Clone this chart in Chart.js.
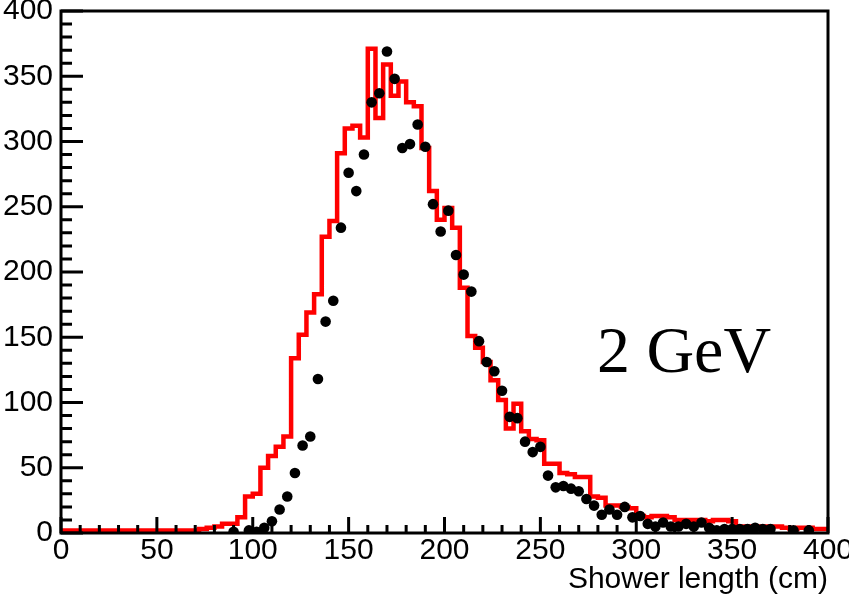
<!DOCTYPE html>
<html><head><meta charset="utf-8">
<script src="https://cdn.jsdelivr.net/npm/chart.js@4.4.1/dist/chart.umd.min.js"></script>
<style>html,body{margin:0;padding:0;background:#fff;overflow:hidden}#wrap{width:849px;height:595px;position:relative}</style>
</head><body><div id="wrap"><canvas id="c" width="849" height="595"></canvas></div>
<script>
// ---- data ----
const binWidth = 4;
const xMin = 0, xMax = 400;
const yMin = 0, yMax = 400;
const xTickValues = [0, 50, 100, 150, 200, 250, 300, 350, 400];
const xTickLabels = ['0', '50', '100', '150', '200', '250', '300', '350', '400'];
const yTickValues = [0, 50, 100, 150, 200, 250, 300, 350, 400];
const yTickLabels = ['0', '50', '100', '150', '200', '250', '300', '350', '400'];
const xTitle = 'Shower length (cm)';
const annotationText = '2 GeV';
const annotationX = 279.5;
const annotationY = 123;

// red histogram (simulation), one value per 4 cm bin from 0 to 400
const simValues = [
  2, 2, 2, 2, 2, 2, 2, 2, 2, 2, 2, 2, 2, 2, 2, 2, 2, 2,
  3, 4, 5, 7, 7, 12, 28, 30, 50, 59, 66, 74,
  134, 152, 169, 183, 227, 239, 291, 310, 312, 303,
  371, 318, 359, 335, 346, 330, 327, 295, 262, 240,
  249, 234, 188, 151, 142, 131, 117, 102, 80, 99,
  78, 72, 71, 53, 53, 46, 45, 43, 43, 28,
  27, 21, 21, 20, 19, 13, 12, 13, 13, 12,
  10, 10, 10, 10, 9, 10, 10, 9, 5, 5,
  5, 5, 5, 5, 4, 3, 4, 4, 3, 3
];

// black points (data), one value per 4 cm bin, null = not drawn
const dataValues = [
  null, null, null, null, null, null, null, null, null, null, null,
  null, null, null, null, null, null, null, null, null, null, null,
  1, null, 2, 1, 4, 9, 18, 28,
  46, 67, 74, 118, 162, 178, 234, 276, 262, 290,
  330, 337, 369, 348, 295, 298, 313, 296, 252, 231,
  247, 213, 198, 185, 147, 131, 124, 109, 89, 88,
  70, 62, 66, 44, 35, 36, 34, 32, 26, 21,
  14, 18, 14, 20, 12, 13, 7, 5, 8, 5,
  5, 7, 5, 8, 4, 2, 3, 3, 3, 3,
  4, 3, 3, null, null, 2, null, 2, null, null
];

// ---- build datasets ----
const histPoints = simValues.map((v, i) => ({x: xMin + i * binWidth, y: v}));
histPoints.push({x: xMax, y: simValues[simValues.length - 1]});
const dotPoints = [];
dataValues.forEach((v, i) => { if (v !== null) dotPoints.push({x: xMin + (i + 0.5) * binWidth, y: v}); });

const FONT = '"Liberation Sans", Arial, Helvetica, sans-serif';

const frameTicks = {
  id: 'frameTicks',
  afterDatasetsDraw(chart) {
    const {ctx, chartArea: a, scales: {x, y}} = chart;
    ctx.save();
    ctx.strokeStyle = '#000';
    ctx.lineWidth = 3;
    ctx.beginPath();
    for (let v = xMin; v <= xMax; v += 10) {
      const px = x.getPixelForValue(v);
      const len = (v % 50 === 0) ? 16 : 8;
      ctx.moveTo(px, a.bottom); ctx.lineTo(px, a.bottom - len);
    }
    for (let v = yMin; v <= yMax; v += 10) {
      const py = y.getPixelForValue(v);
      const len = (v % 50 === 0) ? 22 : 11;
      ctx.moveTo(a.left, py); ctx.lineTo(a.left + len, py);
    }
    ctx.stroke();
    ctx.strokeRect(a.left, a.top, a.right - a.left, a.bottom - a.top);
    ctx.fillStyle = '#000';
    ctx.font = '66px "Liberation Serif", "Times New Roman", serif';
    ctx.textBaseline = 'alphabetic';
    ctx.textAlign = 'left';
    ctx.fillText(annotationText, x.getPixelForValue(annotationX), y.getPixelForValue(annotationY));
    ctx.restore();
  }
};

new Chart(document.getElementById('c'), {
  type: 'scatter',
  data: {
    datasets: [
      {
        data: dotPoints,
        backgroundColor: '#000', borderColor: '#000',
        pointRadius: 5.3, pointHoverRadius: 5.3, pointBorderWidth: 0, showLine: false
      },
      {
        data: histPoints,
        showLine: true, stepped: 'before',
        borderColor: '#ff0000', borderWidth: 4.5, pointRadius: 0, fill: false
      }
    ]
  },
  options: {
    responsive: false, animation: false, devicePixelRatio: 1,
    layout: {padding: {top: 11, right: 21, bottom: 0, left: 0}},
    plugins: {legend: {display: false}, tooltip: {enabled: false}},
    scales: {
      x: {
        type: 'linear', position: 'bottom', min: xMin, max: xMax,
        afterBuildTicks(s) { s.ticks = xTickValues.map(v => ({value: v})); },
        ticks: {
          color: '#000', font: {family: FONT, size: 30}, padding: 0, maxRotation: 0, autoSkip: false,
          callback: (v) => xTickLabels[xTickValues.indexOf(v)]
        },
        grid: {display: false, drawTicks: false}, border: {display: false},
        title: {display: true, text: xTitle, align: 'end', color: '#000', font: {family: FONT, size: 30, lineHeight: 1}, padding: 0},
        afterFit(s) { s.height = 62; s.paddingLeft = 0; s.paddingRight = 0; }
      },
      y: {
        type: 'linear', position: 'left', min: yMin, max: yMax,
        afterBuildTicks(s) { s.ticks = yTickValues.map(v => ({value: v})); },
        ticks: {
          color: '#000', font: {family: FONT, size: 30}, padding: 8, autoSkip: false,
          callback: (v) => yTickLabels[yTickValues.indexOf(v)]
        },
        grid: {display: false, drawTicks: false}, border: {display: false},
        afterFit(s) { s.width = 61; s.paddingTop = 0; s.paddingBottom = 0; }
      }
    }
  },
  plugins: [frameTicks]
});
</script>
</body></html>
